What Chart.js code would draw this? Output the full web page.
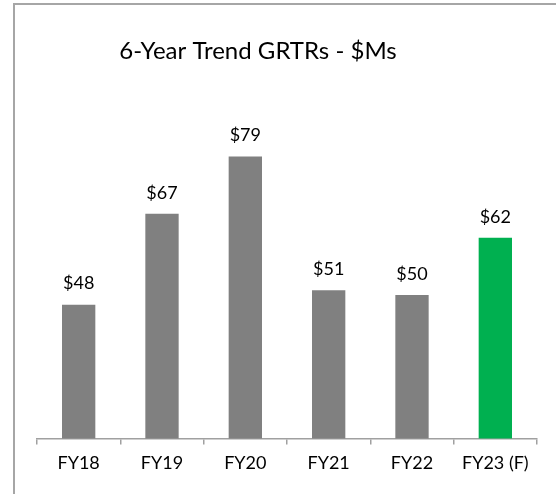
<!DOCTYPE html>
<html>
<head>
<meta charset="utf-8">
<script src="https://cdn.jsdelivr.net/npm/chart.js@4"></script>
<style>
  html, body { margin: 0; padding: 0; background: #fff; overflow: hidden; }
  #marco { position: absolute; left: 13px; top: 3px; width: 700px; height: 700px;
           border-top: 2px solid #a6a6a6; border-left: 2px solid #a6a6a6; }
  #lienzo { position: absolute; left: 0; top: 0; }
</style>
</head>
<body>
<div id="marco"></div>
<canvas id="lienzo" width="556" height="494"></canvas>
<script>
// datos del grafico
const titulo = '6-Year Trend GRTRs - $Ms';
const categorias = ['FY18', 'FY19', 'FY20', 'FY21', 'FY22', 'FY23 (F)'];
const valores = [48, 67, 79, 51, 50, 62];
const colores = ['#808080', '#808080', '#808080', '#808080', '#808080', '#00b050'];

const fuente = 'Lato, "Open Sans", sans-serif';

// etiquetas de valor encima de cada barra
const etiquetasValor = {
    id: 'etiquetasValor',
    afterDatasetsDraw(chart) {
        const ctx = chart.ctx;
        ctx.save();
        ctx.font = '18px ' + fuente;
        ctx.fillStyle = '#000';
        ctx.textAlign = 'center';
        ctx.textBaseline = 'middle';
        chart.getDatasetMeta(0).data.forEach((bar, i) => {
            ctx.fillText('$' + valores[i], bar.x, bar.y - 21);
        });
        ctx.restore();
    }
};

// titulo dibujado a mano (no esta centrado sobre el area del grafico)
const tituloPlugin = {
    id: 'tituloPlugin',
    afterDraw(chart) {
        const ctx = chart.ctx;
        ctx.save();
        ctx.font = '24px ' + fuente;
        ctx.fillStyle = '#000';
        ctx.textAlign = 'center';
        ctx.textBaseline = 'middle';
        ctx.fillText(titulo, 258, 51);
        ctx.restore();
    }
};

var ctx = document.getElementById('lienzo').getContext('2d');
var myChart = new Chart(ctx, {
    type: 'bar',
    data: {
        labels: categorias,
        datasets: [{
            data: valores,
            backgroundColor: colores,
            borderWidth: 0,
            barPercentage: 0.4,
            categoryPercentage: 1
        }]
    },
    options: {
        responsive: false,
        animation: false,
        layout: { padding: { left: 37, right: 19, top: 104, bottom: 12 } },
        plugins: { legend: { display: false }, tooltip: { enabled: false } },
        scales: {
            y: { display: false, min: 20, max: 90 },
            x: {
                border: { display: true, color: '#a0a0a0', width: 1.5 },
                grid: { drawOnChartArea: false, offset: true, color: '#a0a0a0', lineWidth: 1.5, tickLength: 6 },
                ticks: { color: '#000', font: { family: fuente, size: 18 }, padding: 8 }
            }
        }
    },
    plugins: [etiquetasValor, tituloPlugin]
});
</script>
</body>
</html>
